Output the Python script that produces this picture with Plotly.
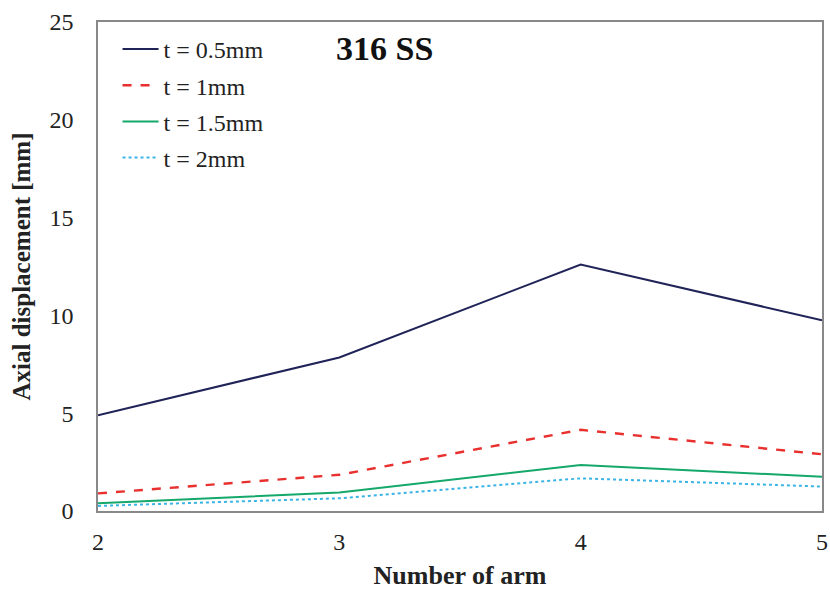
import plotly.graph_objects as go

# Axial displacement of 316 SS vs number of arms, for four thicknesses
arms = [2, 3, 4, 5]
disp_t05 = [4.9, 7.85, 12.6, 9.75]
disp_t10 = [0.9, 1.85, 4.15, 2.9]
disp_t15 = [0.4, 0.95, 2.35, 1.75]
disp_t20 = [0.26, 0.65, 1.67, 1.25]

series_names = ["t = 0.5mm", "t = 1mm", "t = 1.5mm", "t = 2mm"]
series_vals = [disp_t05, disp_t10, disp_t15, disp_t20]
colors = ["#1f2357", "#e8302e", "#14a86a", "#3ab4e6"]
dashes = ["solid", "dash", "solid", "dot"]
widths = [2, 2.4, 2, 2]

FONT = "Liberation Serif, Times New Roman, serif"

fig = go.Figure()
for i, (name, vals, c, d, w) in enumerate(zip(series_names, series_vals, colors, dashes, widths)):
    fig.add_trace(go.Scatter(
        x=arms, y=vals, mode="lines", name=name, legendgroup=f"g{i}",
        line=dict(color=c, dash=d, width=w),
    ))

fig.add_annotation(
    text="<b>316 SS</b>", x=0.396, y=0.945, xref="paper", yref="paper",
    xanchor="center", yanchor="middle", showarrow=False,
    font=dict(family=FONT, size=34, color="#111111"),
)

fig.update_layout(
    width=830, height=590,
    margin=dict(l=98, r=8, t=22, b=79),
    paper_bgcolor="white", plot_bgcolor="white",
    font=dict(family=FONT, size=24, color="#222222"),
    showlegend=True,
    legend=dict(
        x=0.027, y=0.99, xanchor="left", yanchor="top",
        bgcolor="rgba(0,0,0,0)", font=dict(family=FONT, size=24, color="#222222"),
        tracegroupgap=2, itemwidth=36,
    ),
    xaxis=dict(
        range=[2, 5], tickvals=arms, ticks="", showgrid=False, zeroline=False,
        showline=True, linecolor="#888888", linewidth=1.5, mirror=True,
        ticklabelstandoff=8, automargin=False,
        title=dict(text="<b>Number of arm</b>", font=dict(family=FONT, size=26), standoff=16),
    ),
    yaxis=dict(
        range=[0, 25], tickvals=[0, 5, 10, 15, 20, 25], ticks="", showgrid=False,
        zeroline=False, showline=True, linecolor="#888888", linewidth=1.5, mirror=True,
        ticklabelstandoff=18, automargin=False,
        title=dict(text="<b>Axial displacement [mm]</b>", font=dict(family=FONT, size=25), standoff=12),
    ),
)

fig.write_html("out.html")
